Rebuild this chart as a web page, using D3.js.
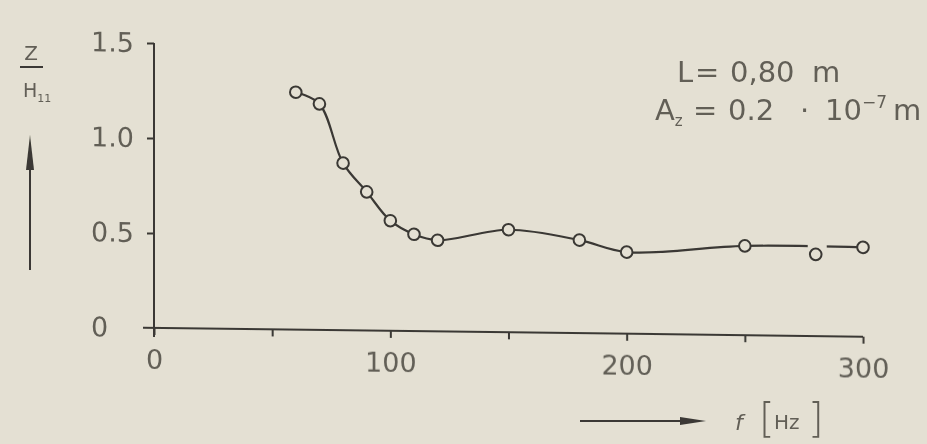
<!DOCTYPE html>
<html>
<head>
<meta charset="utf-8">
<script src="https://cdn.jsdelivr.net/npm/d3@7"></script>
<style>
  html, body { margin: 0; padding: 0; background: #e4e0d3; }
  svg { display: block; }
</style>
</head>
<body>
<svg id="chart" width="927" height="444"></svg>
<script>
// Measured response: frequency f [Hz] against the ratio Z / H11
const frequencies = [60, 70, 80, 90, 100, 110, 120, 150, 180, 200, 250, 280, 300];
const ratios      = [1.25, 1.19, 0.88, 0.73, 0.58, 0.51, 0.48, 0.54, 0.49, 0.43, 0.47, 0.43, 0.47];
// measurements plotted as points but not used for the faired curve
const offCurve = [280];

const xTicks = [0, 50, 100, 150, 200, 250, 300];
const xTickLabels = [0, 100, 200, 300];
const yTicks = [0, 0.5, 1.0, 1.5];
const yTickLabels = ["0", "0.5", "1.0", "1.5"];

const W = 927, H = 444;
const paper = "#e4e0d3";
const ink = "#3a3934";
const textInk = "#625f57";
const font = "DejaVu Sans, Liberation Sans, sans-serif";

const x = d3.scaleLinear().domain([0, 300]).range([154, 863]);
const y = d3.scaleLinear().domain([0, 1.5]).range([328, 43]);

const svg = d3.select("#chart");
svg.append("rect").attr("width", W).attr("height", H).attr("fill", paper);

const defs = svg.append("defs");
defs.append("filter").attr("id", "soft")
  .append("feGaussianBlur").attr("stdDeviation", 0.6);

const root = svg.append("g").attr("filter", "url(#soft)");

// the plotted frame sits slightly askew on the sheet
const plot = root.append("g")
  .attr("transform", `translate(${x(0)},${y(0)}) skewY(0.7) translate(${-x(0)},${-y(0)})`);

// x axis
const xAxis = d3.axisBottom(x)
  .tickValues(xTicks)
  .tickSize(7)
  .tickSizeOuter(0)
  .tickPadding(15)
  .tickFormat(d => xTickLabels.includes(d) ? String(d) : "");
const gx = plot.append("g")
  .attr("transform", `translate(0,${y(0)})`)
  .call(xAxis)
  .attr("font-family", font)
  .attr("font-size", 27);
gx.select(".domain").attr("d", `M${x(0) - 11},0H${x(300)}`);

// y axis
const yAxis = d3.axisLeft(y)
  .tickValues(yTicks)
  .tickSize(7)
  .tickSizeOuter(0)
  .tickFormat((d, i) => yTickLabels[i]);
const gy = plot.append("g")
  .attr("transform", `translate(${x(0)},0)`)
  .call(yAxis)
  .attr("font-family", font)
  .attr("font-size", 27);
gy.select(".domain").attr("d", `M0,${y(1.5)}V${y(0) + 9}`);
gy.selectAll(".tick line").filter(d => d === 0).remove();
gy.selectAll(".tick text").attr("text-anchor", "start").attr("x", -63);

[gx, gy].forEach(g => {
  g.selectAll(".domain, .tick line").attr("stroke", ink).attr("stroke-width", 2);
  g.selectAll(".tick text").attr("fill", textInk);
});

// faired curve with a break where it passes the off-curve point
const pts = frequencies.map((f, i) => ({ f, v: ratios[i] }));
const curvePts = pts.filter(p => !offCurve.includes(p.f));

const mask = defs.append("mask").attr("id", "gap")
  .attr("maskUnits", "userSpaceOnUse")
  .attr("x", 0).attr("y", 0).attr("width", W).attr("height", H);
mask.append("rect").attr("x", 0).attr("y", 0).attr("width", W).attr("height", H).attr("fill", "white");
mask.selectAll("rect.cut").data(offCurve).join("rect")
  .attr("class", "cut")
  .attr("x", d => x(d) - 8).attr("y", 0)
  .attr("width", 19).attr("height", H)
  .attr("fill", "black");

const line = d3.line()
  .x(d => x(d.f))
  .y(d => y(d.v))
  .curve(d3.curveCatmullRom.alpha(0.5));

plot.append("path")
  .datum(curvePts)
  .attr("d", line)
  .attr("fill", "none")
  .attr("stroke", ink)
  .attr("stroke-width", 2.2)
  .attr("mask", "url(#gap)");

plot.selectAll("circle.pt").data(pts).join("circle")
  .attr("class", "pt")
  .attr("cx", d => x(d.f))
  .attr("cy", d => y(d.v))
  .attr("r", 5.8)
  .attr("fill", paper)
  .attr("stroke", ink)
  .attr("stroke-width", 2);

// y-axis title: Z over H11 with an upward arrow
const ylab = root.append("g").attr("fill", textInk).attr("font-family", font);
ylab.append("text").attr("x", 31).attr("y", 60).attr("text-anchor", "middle")
  .attr("font-size", 20).text("Z");
ylab.append("line").attr("x1", 20).attr("x2", 43).attr("y1", 67).attr("y2", 67)
  .attr("stroke", ink).attr("stroke-width", 2);
const hText = ylab.append("text").attr("x", 23).attr("y", 97).attr("font-size", 19);
hText.append("tspan").text("H");
hText.append("tspan").attr("font-size", 11).attr("dy", 5).text("11");
ylab.append("line").attr("x1", 30).attr("x2", 30).attr("y1", 270).attr("y2", 165)
  .attr("stroke", ink).attr("stroke-width", 2);
ylab.append("path").attr("d", "M26,170L30,135L34,170Z").attr("fill", ink);

// x-axis title: arrow then f [Hz]
const xlab = root.append("g").attr("fill", textInk).attr("font-family", font);
xlab.append("line").attr("x1", 580).attr("x2", 690).attr("y1", 421).attr("y2", 421)
  .attr("stroke", ink).attr("stroke-width", 2);
xlab.append("path").attr("d", "M680,417L706,421L680,425Z").attr("fill", ink);
xlab.append("text").attr("x", 735).attr("y", 430).attr("font-size", 22)
  .attr("font-style", "italic").text("f");
xlab.append("text").attr("x", 759).attr("y", 432).attr("font-size", 40)
  .attr("font-weight", 200).text("[");
xlab.append("text").attr("x", 774).attr("y", 429).attr("font-size", 20).text("Hz");
xlab.append("text").attr("x", 808).attr("y", 432).attr("font-size", 40)
  .attr("font-weight", 200).text("]");

// test parameters
const note = root.append("g").attr("fill", textInk).attr("font-family", font).attr("font-size", 29);
const l1 = note.append("text").attr("y", 82);
l1.append("tspan").attr("x", 677).text("L");
l1.append("tspan").attr("x", 695).text("=");
l1.append("tspan").attr("x", 730).text("0,80");
l1.append("tspan").attr("x", 812).text("m");
const l2 = note.append("text").attr("y", 120);
l2.append("tspan").attr("x", 655).text("A");
l2.append("tspan").attr("font-size", 15).attr("dy", 6).text("z");
l2.append("tspan").attr("x", 693).attr("dy", -6).text("=");
l2.append("tspan").attr("x", 728).text("0.2");
l2.append("tspan").attr("x", 800).text("·");
l2.append("tspan").attr("x", 825).text("10");
l2.append("tspan").attr("font-size", 17).attr("dy", -12).text("−7");
l2.append("tspan").attr("x", 893).attr("dy", 12).text("m");
</script>
</body>
</html>
